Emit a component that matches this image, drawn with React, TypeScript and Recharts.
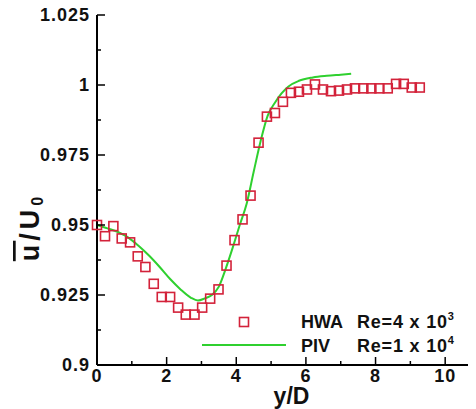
import React from "react";
import {
  ComposedChart,
  XAxis,
  YAxis,
  Scatter,
  Line,
  Legend,
} from "recharts";

// HWA, Re = 4 x 10^3 (squares)
const hwaX = [
  0, 0.23, 0.47, 0.71, 0.95, 1.17, 1.39, 1.63, 1.86, 2.1, 2.33, 2.55, 2.8,
  3.02, 3.25, 3.49, 3.72, 3.95, 4.18, 4.41, 4.64, 4.88, 5.11, 5.34, 5.57, 5.8,
  6.03, 6.26, 6.49, 6.72, 6.95, 7.18, 7.41, 7.65, 7.88, 8.11, 8.35, 8.59, 8.81,
  9.04, 9.27,
];
const hwaU = [
  0.95, 0.946, 0.9496, 0.9452, 0.9438, 0.9388, 0.935, 0.929, 0.9243, 0.9243,
  0.9205, 0.918, 0.918, 0.9205, 0.9237, 0.927, 0.9355, 0.9446, 0.952, 0.9605,
  0.9794, 0.9887, 0.99, 0.994, 0.9972, 0.9976, 0.9984, 1.0002, 0.9984, 0.9978,
  0.998, 0.9984, 0.9988, 0.9988, 0.9988, 0.9988, 0.9988, 1.0004, 1.0004,
  0.9991, 0.9991,
];

// PIV, Re = 1 x 10^4 (line)
const pivX = [
  0, 0.3, 0.6, 0.9, 1.2, 1.5, 1.8, 2.1, 2.4, 2.7, 2.9, 3.1, 3.3, 3.5, 3.7, 3.9,
  4.1, 4.3, 4.5, 4.7, 4.9, 5.1, 5.3, 5.5, 5.8, 6.2, 6.6, 7.0, 7.3,
];
const pivU = [
  0.95, 0.9488, 0.9475, 0.9455, 0.9425, 0.939, 0.935, 0.9307, 0.927, 0.924,
  0.923, 0.9238, 0.925, 0.928, 0.9345, 0.942, 0.95, 0.9577, 0.969, 0.98,
  0.989, 0.9935, 0.997, 0.9995, 1.0015, 1.0027, 1.0033, 1.0037, 1.004,
];

const xTicks = [0, 1, 2, 3, 4, 5, 6, 7, 8, 9, 10, 11];
const xLabels = ["0", "", "2", "", "4", "", "6", "", "8", "", "10", ""];
const yTicks = [
  0.9, 0.9125, 0.925, 0.9375, 0.95, 0.9625, 0.975, 0.9875, 1, 1.0125, 1.025,
];
const yLabels = ["0.9", "", "0.925", "", "0.95", "", "0.975", "", "1", "", "1.025"];

const hwa = hwaX.map((x, i) => ({ yD: x, u: hwaU[i] }));
const piv = pivX.map((x, i) => ({ yD: x, u: pivU[i] }));

const FONT = "'Liberation Sans', Arial, sans-serif";
const RED = "#d3223a";
const GREEN = "#2fd02f";

const idx = (arr: number[], v: number) =>
  arr.findIndex((t) => Math.abs(t - v) < 1e-6);

const XTickBottom = ({ x, y, payload }: any) => {
  const lab = xLabels[idx(xTicks, payload.value)] || "";
  const len = lab ? 8 : 4;
  return (
    <g>
      <line x1={x} y1={y} x2={x} y2={y - len} stroke="#000" strokeWidth={1.5} />
      {lab && (
        <text
          x={x}
          y={y + 17}
          textAnchor="middle"
          fontFamily={FONT}
          fontWeight="bold"
          fontSize={18}
          letterSpacing={1}
          fill="#111"
        >
          {lab}
        </text>
      )}
    </g>
  );
};

const XTickTop = ({ x, y, payload }: any) => {
  const lab = xLabels[idx(xTicks, payload.value)] || "";
  return (
    <line x1={x} y1={y} x2={x} y2={y + (lab ? 8 : 4)} stroke="#000" strokeWidth={1.5} />
  );
};

const YTickLeft = ({ x, y, payload }: any) => {
  const lab = yLabels[idx(yTicks, payload.value)] || "";
  const len = lab ? 8 : 4;
  return (
    <g>
      <line x1={x} y1={y} x2={x + len} y2={y} stroke="#000" strokeWidth={1.5} />
      {lab && (
        <text
          x={x - 7}
          y={y + 6}
          textAnchor="end"
          fontFamily={FONT}
          fontWeight="bold"
          fontSize={18}
          letterSpacing={1}
          fill="#111"
        >
          {lab}
        </text>
      )}
    </g>
  );
};

const YTickRight = ({ x, y, payload }: any) => {
  const lab = yLabels[idx(yTicks, payload.value)] || "";
  return (
    <line x1={x} y1={y} x2={x - (lab ? 8 : 4)} y2={y} stroke="#000" strokeWidth={1.5} />
  );
};

const Square = ({ cx, cy }: any) => (
  <rect
    x={cx - 4.5}
    y={cy - 4.5}
    width={9}
    height={9}
    fill="none"
    stroke={RED}
    strokeWidth={1.6}
  />
);

const XTitle = ({ viewBox }: any) => (
  <text
    x={viewBox.x + viewBox.width / 2 + 3}
    y={viewBox.y + 39}
    textAnchor="middle"
    fontFamily={FONT}
    fontWeight="bold"
    fontSize={23}
    fill="#111"
  >
    y/D
  </text>
);

const YTitle = ({ viewBox }: any) => {
  const cx = viewBox.x + 22;
  const cy = viewBox.y + 212;
  return (
    <text
      x={cx}
      y={cy}
      transform={`rotate(-90, ${cx}, ${cy})`}
      textAnchor="middle"
      dominantBaseline="central"
      fontFamily={FONT}
      fontWeight="bold"
      fontSize={27}
      letterSpacing={4}
      fill="#111"
    >
      <tspan style={{ textDecoration: "overline" }}>u</tspan>/U
      <tspan dy={7} fontSize={16}>
        0
      </tspan>
    </text>
  );
};

const txt = {
  fontFamily: FONT,
  fontWeight: "bold" as const,
  fontSize: 18,
  fill: "#111",
};

const LegendBox = () => (
  <svg width={280} height={54} style={{ display: "block" }}>
    <rect x={41.5} y={9.5} width={9} height={9} fill="none" stroke={RED} strokeWidth={1.6} />
    <text x={103} y={20} {...txt}>
      HWA
    </text>
    <text x={159} y={20} {...txt} letterSpacing={0.8}>
      Re=4 x 10
      <tspan dy={-8} fontSize={11}>
        3
      </tspan>
    </text>
    <line x1={4} y1={37} x2={88} y2={37} stroke={GREEN} strokeWidth={2} />
    <text x={103} y={44} {...txt}>
      PIV
    </text>
    <text x={159} y={44} {...txt} letterSpacing={0.8}>
      Re=1 x 10
      <tspan dy={-8} fontSize={11}>
        4
      </tspan>
    </text>
  </svg>
);

export default function App() {
  return (
    <div style={{ width: 468, height: 401, overflow: "hidden", background: "#fff" }}>
      <ComposedChart
        width={480}
        height={401}
        margin={{ top: 7, right: 8, left: 0, bottom: 0 }}
        style={{ overflow: "visible" }}
      >
        <XAxis
          dataKey="yD"
          type="number"
          domain={[0, 11]}
          ticks={xTicks}
          interval={0}
          height={44}
          tickSize={0}
          tickMargin={0}
          tickLine={false}
          axisLine={{ stroke: "#000", strokeWidth: 2 }}
          tick={<XTickBottom />}
          label={<XTitle />}
        />
        <XAxis
          xAxisId="top"
          orientation="top"
          dataKey="yD"
          type="number"
          domain={[0, 11]}
          ticks={xTicks}
          interval={0}
          height={0}
          tickSize={0}
          tickMargin={0}
          tickLine={false}
          axisLine={{ stroke: "#000", strokeWidth: 2 }}
          tick={<XTickTop />}
        />
        <YAxis
          type="number"
          domain={[0.9, 1.025]}
          ticks={yTicks}
          interval={0}
          width={89}
          tickSize={0}
          tickMargin={0}
          tickLine={false}
          axisLine={{ stroke: "#000", strokeWidth: 2 }}
          tick={<YTickLeft />}
          label={<YTitle />}
        />
        <YAxis
          yAxisId="right"
          orientation="right"
          type="number"
          domain={[0.9, 1.025]}
          ticks={yTicks}
          interval={0}
          width={0}
          tickSize={0}
          tickMargin={0}
          tickLine={false}
          axisLine={{ stroke: "#000", strokeWidth: 2 }}
          tick={<YTickRight />}
        />
        <Line
          data={piv}
          dataKey="u"
          type="monotone"
          stroke={GREEN}
          strokeWidth={2}
          dot={false}
          isAnimationActive={false}
        />
        <Scatter
          data={hwa}
          dataKey="u"
          shape={<Square />}
          isAnimationActive={false}
        />
        <Legend
          layout="vertical"
          align="center"
          verticalAlign="middle"
          wrapperStyle={{ left: 190, top: 300, width: 280 }}
          content={<LegendBox />}
        />
      </ComposedChart>
    </div>
  );
}
